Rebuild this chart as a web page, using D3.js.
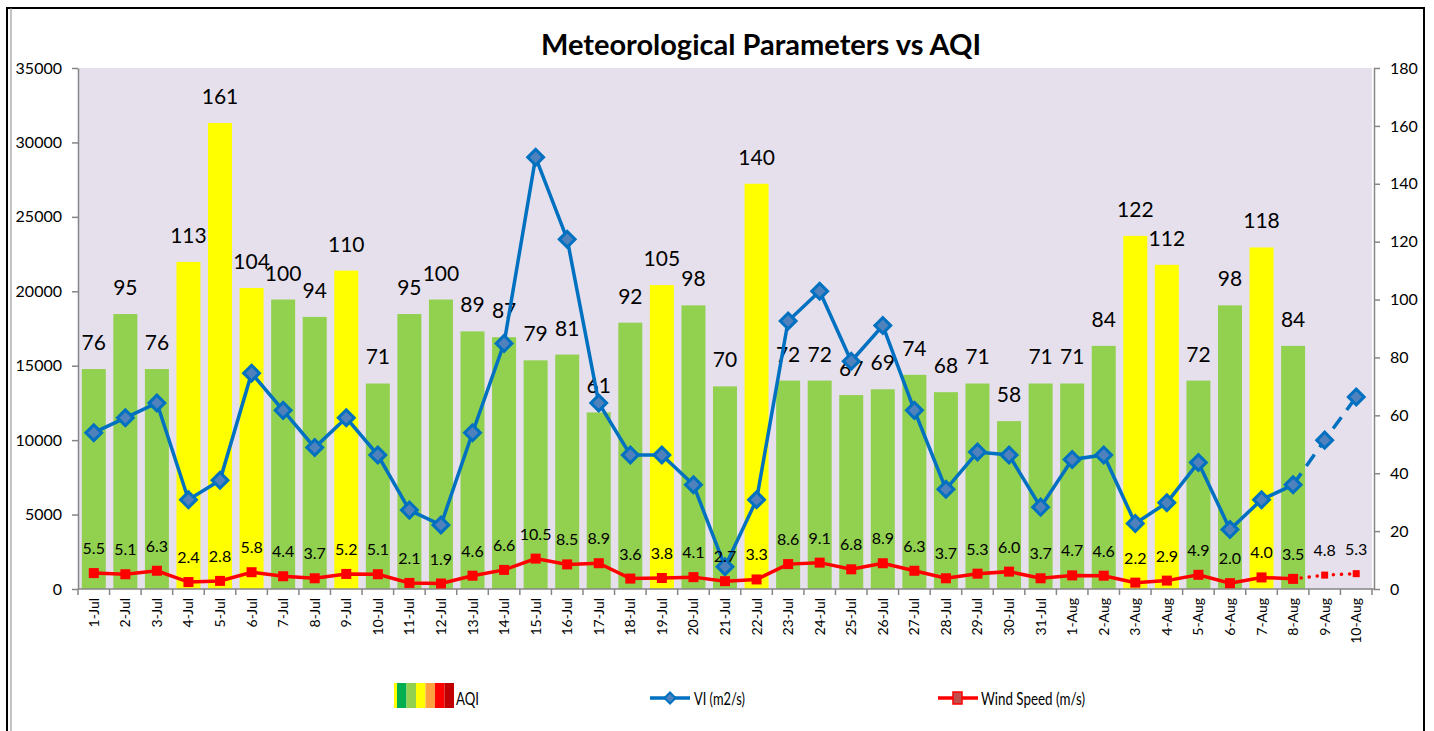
<!DOCTYPE html>
<html>
<head>
<meta charset="utf-8">
<script src="https://cdn.jsdelivr.net/npm/d3@7"></script>
<style>
  html, body { margin: 0; padding: 0; background: #fff; }
  svg { display: block; }
  text { font-family: Lato, "Open Sans", "Noto Sans", sans-serif; fill: #000; }
</style>
</head>
<body>
<svg id="chart" width="1434" height="731"></svg>
<script>
// ---------------- data ----------------
const dates = ["1-Jul","2-Jul","3-Jul","4-Jul","5-Jul","6-Jul","7-Jul","8-Jul","9-Jul","10-Jul",
  "11-Jul","12-Jul","13-Jul","14-Jul","15-Jul","16-Jul","17-Jul","18-Jul","19-Jul","20-Jul",
  "21-Jul","22-Jul","23-Jul","24-Jul","25-Jul","26-Jul","27-Jul","28-Jul","29-Jul","30-Jul",
  "31-Jul","1-Aug","2-Aug","3-Aug","4-Aug","5-Aug","6-Aug","7-Aug","8-Aug","9-Aug","10-Aug"];
const aqi = [76,95,76,113,161,104,100,94,110,71,
  95,100,89,87,79,81,61,92,105,98,
  70,140,72,72,67,69,74,68,71,58,
  71,71,84,122,112,72,98,118,84,null,null];
const vi = [10500,11500,12500,6000,7300,14500,12000,9500,11500,9000,
  5300,4300,10500,16500,29000,23500,12500,9000,9000,7000,
  1500,6000,18000,20000,15300,17700,12000,6700,9200,9000,
  5500,8700,9000,4400,5800,8500,4000,6000,7000,10000,12900];
const wind = [5.5,5.1,6.3,2.4,2.8,5.8,4.4,3.7,5.2,5.1,
  2.1,1.9,4.6,6.6,10.5,8.5,8.9,3.6,3.8,4.1,
  2.7,3.3,8.6,9.1,6.8,8.9,6.3,3.7,5.3,6.0,
  3.7,4.7,4.6,2.2,2.9,4.9,2.0,4.0,3.5,4.8,5.3];
const forecastFrom = "8-Aug"; // last observed day; later days are projections
const leftTicks = [0,5000,10000,15000,20000,25000,30000,35000];
const rightTicks = [0,20,40,60,80,100,120,140,160,180];
const aqiLegendColors = ["#00B050","#92D050","#FFFF00","#FFA040","#FF0000","#C00000"];
const title = "Meteorological Parameters vs AQI";

// ---------------- layout ----------------
const svg = d3.select("#chart");
const L = 78, R = 1372, T = 68, B = 589;
const axisColor = "#868686";

const x = d3.scaleBand().domain(dates).range([L, R]).padding(0);
const yL = d3.scaleLinear().domain([0, 35000]).range([B, T]);
const yR = d3.scaleLinear().domain([0, 180]).range([B, T]);
const cx = d => x(d) + x.bandwidth() / 2;

// outer frame
svg.append("rect").attr("x", 7).attr("y", 8).attr("width", 1417).attr("height", 740)
  .attr("fill", "#fff").attr("stroke", "#000").attr("stroke-width", 2);
svg.append("line").attr("x1", 11).attr("x2", 11).attr("y1", 8).attr("y2", 731)
  .attr("stroke", "#888").attr("stroke-width", 1);

// title
svg.append("text").attr("x", 761).attr("y", 55).attr("text-anchor", "middle")
  .style("font-size", "29px").style("font-weight", "bold").text(title);

// plot area
svg.append("rect").attr("x", L).attr("y", T).attr("width", R - L).attr("height", B - T)
  .attr("fill", "#E5E0EC");

// bars (AQI on right axis)
const barW = x.bandwidth() * 0.76;
const barData = dates.map((d, i) => ({ d, v: aqi[i] })).filter(o => o.v != null);
svg.append("g").selectAll("rect").data(barData).join("rect")
  .attr("x", o => cx(o.d) - barW / 2)
  .attr("y", o => yR(o.v))
  .attr("width", barW)
  .attr("height", o => B - yR(o.v))
  .attr("fill", o => o.v > 100 ? "#FFFF00" : "#92D050");

// axes
const gL = svg.append("g").attr("transform", `translate(${L},0)`)
  .call(d3.axisLeft(yL).tickValues(leftTicks).tickFormat(d3.format("d"))
    .tickSize(6).tickSizeOuter(0).tickPadding(10));
const gR = svg.append("g").attr("transform", `translate(${R + 2},0)`)
  .call(d3.axisRight(yR).tickValues(rightTicks).tickFormat(d3.format("d"))
    .tickSize(6).tickSizeOuter(0).tickPadding(10));
[gL, gR].forEach(g => {
  g.select(".domain").attr("stroke", axisColor).attr("stroke-width", 1.5);
  g.selectAll(".tick line").attr("stroke", axisColor).attr("stroke-width", 1.5);
  g.selectAll(".tick text").style("font-size", "16px").attr("fill", "#000")
    .style("font-family", "Lato, 'Open Sans', sans-serif");
});

// x axis
const gx = svg.append("g");
gx.append("line").attr("x1", L).attr("x2", R + 2).attr("y1", B).attr("y2", B)
  .attr("stroke", axisColor).attr("stroke-width", 1.5);
const bounds = dates.map(d => x(d)).concat([R]);
gx.selectAll("line.tk").data(bounds).join("line").attr("class", "tk")
  .attr("x1", b => b).attr("x2", b => b).attr("y1", B).attr("y2", B + 6)
  .attr("stroke", axisColor).attr("stroke-width", 1.5);
gx.selectAll("text").data(dates).join("text")
  .attr("transform", d => `translate(${cx(d) + 5},${B + 9}) rotate(-90)`)
  .attr("text-anchor", "end").style("font-size", "14px").text(d => d);

// AQI labels
svg.append("g").selectAll("text").data(barData).join("text")
  .attr("x", o => cx(o.d)).attr("y", o => yR(o.v) - 19)
  .attr("text-anchor", "middle").style("font-size", "21px").text(o => o.v);

const splitIdx = dates.indexOf(forecastFrom);
const pts = (arr, ys) => dates.map((d, i) => [cx(d), ys(arr[i])]);

// VI line (left axis)
const viPts = pts(vi, yL);
const line = d3.line();
svg.append("path").attr("d", line(viPts.slice(0, splitIdx + 1)))
  .attr("fill", "none").attr("stroke", "#0070C0").attr("stroke-width", 3.5);
svg.append("path").attr("d", line(viPts.slice(splitIdx)))
  .attr("fill", "none").attr("stroke", "#0070C0").attr("stroke-width", 3.5)
  .attr("stroke-dasharray", "14,9");
const diamond = d3.symbol().type(d3.symbolSquare).size(125);
svg.append("g").selectAll("path").data(viPts).join("path")
  .attr("d", diamond())
  .attr("transform", p => `translate(${p[0]},${p[1]}) rotate(45)`)
  .attr("fill", "#4F81BD").attr("stroke", "#0070C0").attr("stroke-width", 3);

// Wind line (right axis)
const wPts = pts(wind, yR);
svg.append("path").attr("d", line(wPts.slice(0, splitIdx + 1)))
  .attr("fill", "none").attr("stroke", "#FF0000").attr("stroke-width", 3.5);
svg.append("path").attr("d", line(wPts.slice(splitIdx)))
  .attr("fill", "none").attr("stroke", "#FF0000").attr("stroke-width", 3.5)
  .attr("stroke-linecap", "round").attr("stroke-dasharray", "0.1,8");
svg.append("g").selectAll("rect").data(wPts).join("rect")
  .attr("x", (p, i) => p[0] - (i > splitIdx ? 3.5 : 5))
  .attr("y", (p, i) => p[1] - (i > splitIdx ? 3.5 : 5))
  .attr("width", (p, i) => i > splitIdx ? 7 : 10)
  .attr("height", (p, i) => i > splitIdx ? 7 : 10)
  .attr("fill", "#FF0000");

// Wind labels
svg.append("g").selectAll("text").data(wind).join("text")
  .attr("x", (w, i) => cx(dates[i])).attr("y", w => yR(w) - 19)
  .attr("text-anchor", "middle").style("font-size", "16px").text(w => w.toFixed(1));

// legend
const lg = svg.append("g");
const swW = 9.5;
lg.append("rect").attr("x", 394).attr("y", 683).attr("width", 3).attr("height", 25).attr("fill", "#FFFF00");
lg.selectAll("rect.sw").data(aqiLegendColors).join("rect").attr("class", "sw")
  .attr("x", (c, i) => 397 + i * swW).attr("y", 683).attr("width", swW).attr("height", 25)
  .attr("fill", c => c);
lg.append("text").attr("x", 456).attr("y", 705).style("font-size", "18px")
  .attr("textLength", 23).attr("lengthAdjust", "spacingAndGlyphs").text("AQI");

lg.append("line").attr("x1", 650).attr("x2", 690).attr("y1", 698).attr("y2", 698)
  .attr("stroke", "#0070C0").attr("stroke-width", 3.5);
lg.append("path").attr("d", d3.symbol().type(d3.symbolSquare).size(60)())
  .attr("transform", "translate(670,698) rotate(45)").attr("fill", "#4F81BD")
  .attr("stroke", "#0070C0").attr("stroke-width", 2);
lg.append("text").attr("x", 694).attr("y", 705).style("font-size", "18px")
  .attr("textLength", 51).attr("lengthAdjust", "spacingAndGlyphs").text("VI (m2/s)");

lg.append("line").attr("x1", 938).attr("x2", 978).attr("y1", 698).attr("y2", 698)
  .attr("stroke", "#FF0000").attr("stroke-width", 3.5);
lg.append("rect").attr("x", 953).attr("y", 692).attr("width", 9).attr("height", 12)
  .attr("fill", "#C0504D").attr("stroke", "#FF0000").attr("stroke-width", 1.5);
lg.append("text").attr("x", 981).attr("y", 705).style("font-size", "18px")
  .attr("textLength", 104).attr("lengthAdjust", "spacingAndGlyphs").text("Wind Speed (m/s)");
</script>
</body>
</html>
